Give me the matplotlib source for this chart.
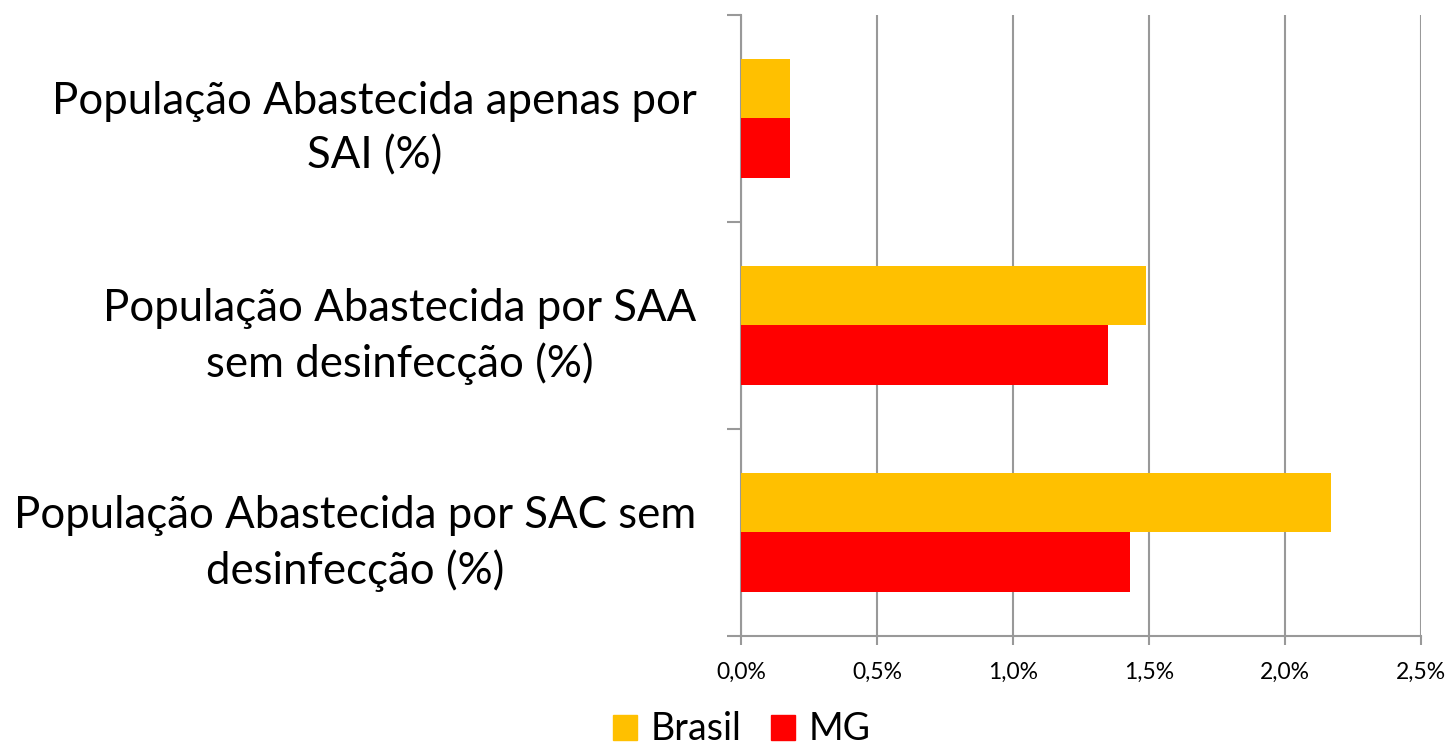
import numpy as np
import matplotlib.pyplot as plt
from matplotlib.patches import Patch

# dados (%)
categorias = ["População Abastecida apenas por\nSAI (%)",
              "População Abastecida por SAA\nsem desinfecção (%)",
              "População Abastecida por SAC sem\ndesinfecção (%)"]
brasil = [0.18, 1.49, 2.17]
mg = [0.18, 1.35, 1.43]
xticks = [0.0, 0.5, 1.0, 1.5, 2.0, 2.5]
xlabels = ["0,0%", "0,5%", "1,0%", "1,5%", "2,0%", "2,5%"]

plt.rcParams['font.family'] = ['Lato', 'DejaVu Sans']

fig = plt.figure(figsize=(14.49, 7.52), dpi=100)
ax = fig.add_axes([0.5114, 0.1543, 0.4693, 0.8258])

y = np.arange(len(categorias))
h = 0.286
ax.barh(y - h/2, brasil, height=h, color="#FFC000", zorder=3)
ax.barh(y + h/2, mg, height=h, color="#FF0000", zorder=3)

ax.set_xlim(0, 2.5)
ax.set_ylim(2.5, -0.5)
ax.set_xticks(xticks)
ax.set_xticklabels(xlabels, fontsize=16.5)
ax.set_yticks(y)
ax.set_yticklabels(categorias, fontsize=31.5, ha='right', multialignment='center',
                   linespacing=1.4)
ax.set_yticks([-0.5, 0.5, 1.5, 2.5], minor=True)

cinza = "#999999"
ax.xaxis.grid(True, color=cinza, linewidth=1.5, zorder=0)
for s in ["top", "right"]:
    ax.spines[s].set_visible(False)
for s in ["left", "bottom"]:
    ax.spines[s].set_color(cinza)
    ax.spines[s].set_linewidth(1.5)
ax.tick_params(axis='y', which='major', length=0, pad=32)
ax.tick_params(axis='y', which='minor', length=10, width=1.5, color=cinza)
ax.tick_params(axis='x', length=6.5, width=1.5, color=cinza, pad=12)

handles = [Patch(color="#FFC000", label="Brasil"), Patch(color="#FF0000", label="MG")]
fig.legend(handles=handles, loc='center', bbox_to_anchor=(0.512, 0.03), ncol=2,
           frameon=False, fontsize=27, handlelength=0.64, handleheight=0.64,
           handletextpad=0.35, columnspacing=0.8, borderpad=0)

fig.savefig("out.png", dpi=100)
